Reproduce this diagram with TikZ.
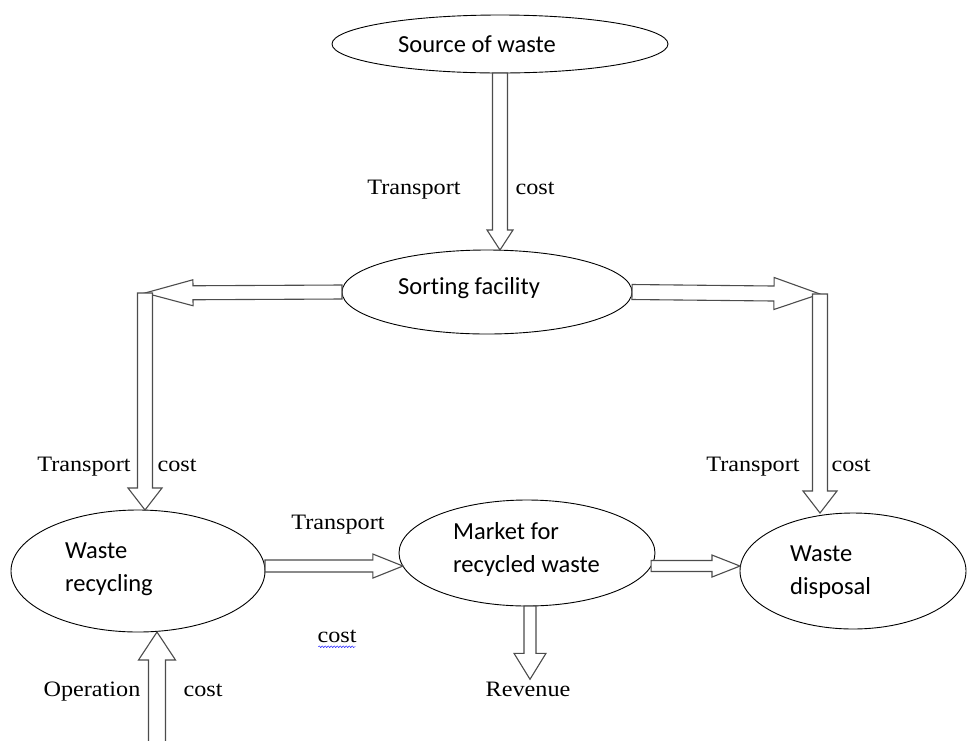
\documentclass[tikz,border=0pt]{standalone}
\usepackage{fontspec}
\setmainfont[FakeStretch=1.1]{Liberation Serif}
\newfontfamily\calibri[Ligatures=NoCommon]{Carlito}
\usetikzlibrary{shapes.geometric, calc, positioning, decorations.pathmorphing}

% hollow block arrow: #1 start, #2 tip, #3 half shaft, #4 half head, #5 head length
\newcommand{\blockarrow}[5]{%
  \coordinate (ba-s) at (#1);
  \coordinate (ba-t) at (#2);
  \coordinate (ba-b) at ($(ba-t)!#5!(ba-s)$);
  \draw[blockline] ($(ba-s)!#3!90:(ba-t)$) -- ($(ba-b)!#3!90:(ba-t)$)
    -- ($(ba-b)!#4!90:(ba-t)$) -- (ba-t)
    -- ($(ba-b)!#4!-90:(ba-t)$) -- ($(ba-b)!#3!-90:(ba-t)$)
    -- ($(ba-s)!#3!-90:(ba-t)$) -- cycle;
}

\begin{document}
\begin{tikzpicture}[x=1pt, y=-1pt,
    blob/.style={ellipse, draw=black, line width=0.9pt, fill=white, inner sep=0pt, outer sep=0pt},
    blobtext/.style={font=\calibri\fontsize{24.5}{33}\selectfont, align=left, inner sep=0pt},
    lbl/.style={font=\fontsize{22}{26}\selectfont, inner sep=0pt, text height=0.68em, text depth=0.22em},
    blockline/.style={draw=black!70, line width=1.1pt, fill=white, line join=miter}
]
\useasboundingbox (0,0) rectangle (967,740);

% Ellipses
\node[blob, minimum width=336pt, minimum height=58pt] (src) at (500,44) {};
\node[blob, minimum width=290pt, minimum height=84pt] (sort) at (487,292) {};
\node[blob, minimum width=254pt, minimum height=122pt] (recyc) at (138,571) {};
\node[blob, minimum width=256pt, minimum height=106pt] (market) at (527,553) {};
\node[blob, minimum width=226pt, minimum height=116pt] (disp) at (853,571) {};

% Texts in ellipses
\node[blobtext, anchor=west] (src-txt) at (398,44) {Source of waste};
\node[blobtext, anchor=west] (sort-txt) at (398,288) {Sorting facility};
\node[blobtext, anchor=west] (recyc-txt) at (65,569) {Waste\\recycling};
\node[blobtext, anchor=west] (market-txt) at (453,549) {Market for\\recycled waste};
\node[blobtext, anchor=west] (disp-txt) at (790,572) {Waste\\disposal};

% Corners and free ends
\coordinate (cl) at (145,293);
\coordinate (cr) at (820,294);
\coordinate (op-end) at (157,746);

% Labels
\node[lbl] (top-tr) at (414,192) {Transport};
\node[lbl] (top-cost) at (535,192) {cost};
\node[lbl] (left-tr) at (84,469) {Transport};
\node[lbl] (left-cost) at (177,469) {cost};
\node[lbl] (right-tr) at (753,469) {Transport};
\node[lbl] (right-cost) at (851,469) {cost};
\node[lbl] (mid-tr) at (338,527) {Transport};
\node[lbl] (mid-cost) at (337,640) {cost};
\node[lbl] (rev) at (528,694) {Revenue};
\node[lbl] (op-tr) at (92,694) {Operation};
\node[lbl] (op-cost) at (203,694) {cost};
\draw[blue, decorate, decoration={snake, amplitude=0.8pt, segment length=3pt}]
  ($(mid-cost.south west)+(1,2)$) -- ($(mid-cost.south east)+(-1,2)$);
\coordinate (rev-tip) at ($(rev.north)+(2,-10)$);

% Arrows
\blockarrow{src.south}{src.south |- sort.north}{7.5pt}{13pt}{20pt}
\blockarrow{sort.west}{cl}{7pt}{13pt}{48pt}
\blockarrow{cl}{cl |- recyc.north}{7.5pt}{17pt}{22pt}
\blockarrow{sort.east}{cr}{7.5pt}{16pt}{46pt}
\blockarrow{cr}{cr |- disp.north}{7.5pt}{17pt}{22pt}
\blockarrow{recyc.east |- market.186}{market.186}{6pt}{12pt}{30pt}
\blockarrow{market.-6}{disp.west |- market.-6}{5.5pt}{11pt}{28pt}
\blockarrow{rev-tip |- market.south}{rev-tip}{6pt}{16pt}{26pt}
\blockarrow{op-end}{op-end |- recyc.south}{8.5pt}{18.5pt}{28pt}

\end{tikzpicture}
\end{document}
